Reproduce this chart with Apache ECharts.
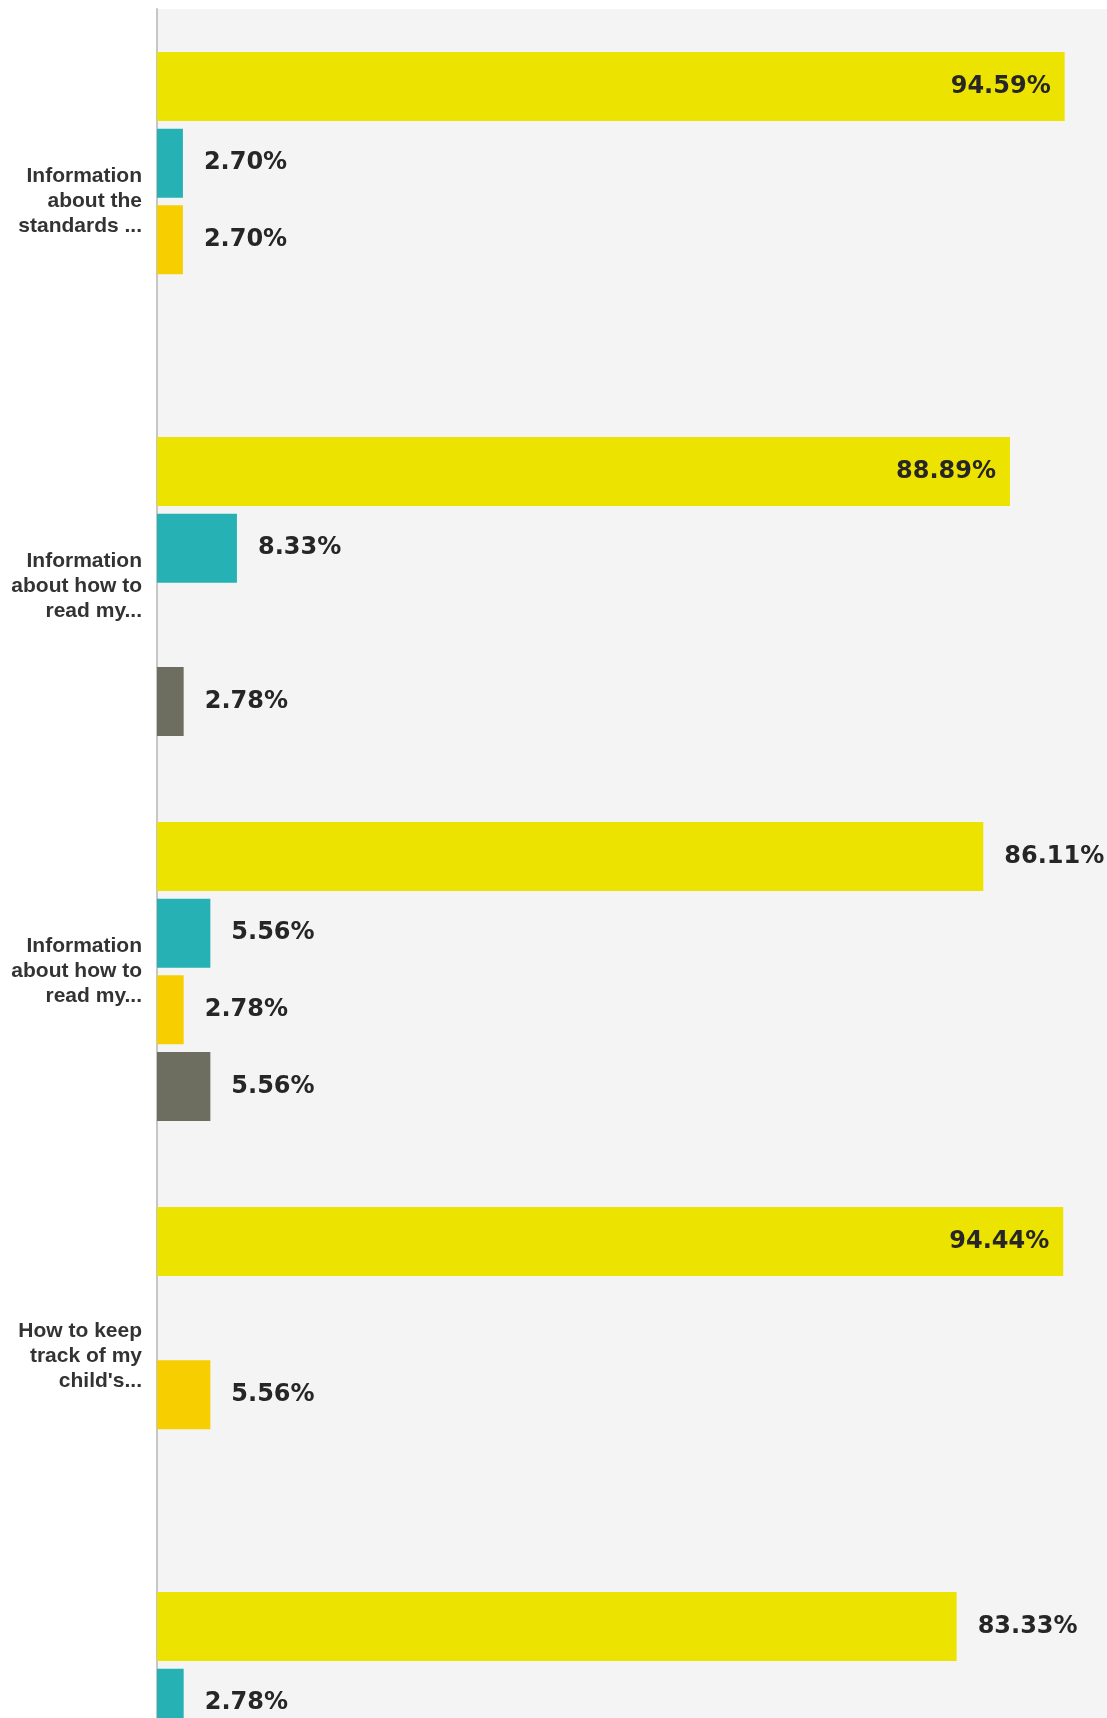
<!DOCTYPE html>
<html>
<head>
<meta charset="utf-8">
<title>Bar chart</title>
<script src="https://cdn.jsdelivr.net/npm/echarts@6/dist/echarts.min.js"></script>
<style>
    html, body {margin: 0; padding: 0; background: #fff; overflow: hidden;}
    #frame {width: 1107px; height: 1718px; overflow: hidden;}
    /* the chart runs past the bottom of the page, like the cropped original */
    #container {width: 1107px; height: 1960px;}
</style>
</head>
<body>
<div id="frame"><div id="container"></div></div>
<script>
    // categories, top to bottom (the last one is cut off at the bottom of the page)
    var categories = [
        'Information\nabout the\nstandards ...',
        'Information\nabout how to\nread my...',
        'Information\nabout how to\nread my...',
        'How to keep\ntrack of my\nchild\'s...',
        'Other...'
    ];
    var seriesNames = ['Answer 1', 'Answer 2', 'Answer 3', 'Answer 4'];
    // percent values per series, null = no bar
    var yellowVals = [94.59, 88.89, 86.11, 94.44, 83.33];
    var tealVals = [2.70, 8.33, 5.56, null, 2.78];
    var goldVals = [2.70, null, 2.78, 5.56, null];
    var grayVals = [null, 2.78, 5.56, null, null];

    var colors = ['#EDE300', '#26B1B4', '#F7CF00', '#6D6E5F'];

    var labelStyle = {
        show: true,
        color: '#262626',
        fontSize: 24,
        fontWeight: 'bold',
        fontFamily: 'DejaVu Sans',
        formatter: function (p) {
            return p.value.toFixed(2) + '%'
        }
    };

    function makeSeries(name, vals) {
        return {
            name: name,
            type: 'bar',
            barWidth: 69,
            barGap: '11%',
            data: vals.map(function (v) {
                if (v === null) {
                    return '-'
                }
                // long bars keep their label inside, otherwise it would run off the page
                var inside = v > 87;
                return {
                    value: v,
                    label: {
                        position: inside ? 'insideRight' : 'right',
                        distance: inside ? 14 : 21
                    }
                }
            }),
            label: labelStyle
        }
    }

    var chart = echarts.init(document.getElementById('container'));
    var option = {
        color: colors,
        animation: false,
        grid: {
            top: 9,
            left: 157,
            right: 0,
            height: 1925,
            show: true,
            backgroundColor: '#F4F4F4',
            borderWidth: 0
        },
        xAxis: {
            type: 'value',
            min: 0,
            max: 99,
            show: false
        },
        yAxis: {
            type: 'category',
            inverse: true,
            data: categories,
            axisTick: {show: false},
            axisLine: {
                lineStyle: {
                    color: '#C6C6C6',
                    width: 2
                }
            },
            axisLabel: {
                color: '#333',
                fontSize: 21,
                lineHeight: 25,
                fontWeight: 'bold',
                fontFamily: 'Liberation Sans',
                margin: 15,
                align: 'right'
            }
        },
        series: [
            makeSeries(seriesNames[0], yellowVals),
            makeSeries(seriesNames[1], tealVals),
            makeSeries(seriesNames[2], goldVals),
            makeSeries(seriesNames[3], grayVals)
        ]
    };
    chart.setOption(option);
    window.addEventListener('resize', function () {
        chart.resize()
    });
</script>
</body>
</html>
